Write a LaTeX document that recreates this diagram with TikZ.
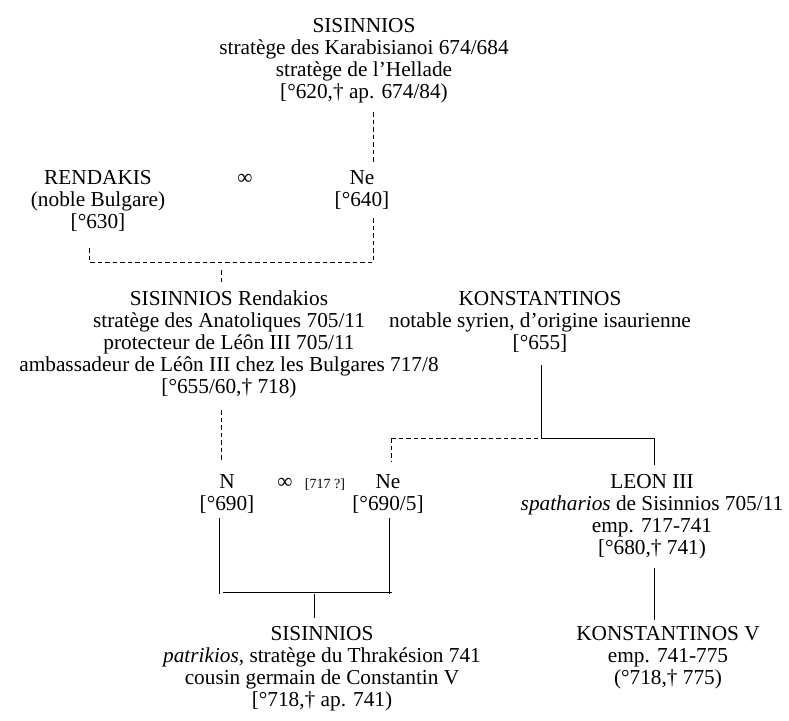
\documentclass[tikz,border=0pt]{standalone}
\usepackage{fontspec}
\setmainfont{Liberation Serif}
\begin{document}
\begin{tikzpicture}[x=1pt,y=-1pt,
  person/.style={align=center,inner sep=0pt,anchor=base,font=\fontsize{21.3}{22}\selectfont},
  smalltxt/.style={inner sep=0pt,anchor=base,font=\fontsize{14}{16}\selectfont},
  dsh/.style={line width=0.8pt,dash pattern=on 4.5pt off 3pt},
  sol/.style={line width=0.8pt}]
\useasboundingbox (0,0) rectangle (789,720);
% anchor base = baseline of the last line
\node[person] (sis1) at (364,98) {SISINNIOS\\stratège des Karabisianoi 674/684\\stratège de l’Hellade\\{[}°620,† ap. 674/84)};
\node[person] (ren) at (98,228) {RENDAKIS\\(noble Bulgare)\\{[}°630]};
\node[person] (m1) at (245,184) {∞};
\node[person] (ne1) at (362,206) {Ne\\{[}°640]};
\node[person] (sis2) at (229,393) {SISINNIOS Rendakios\\stratège des Anatoliques 705/11\\protecteur de Léôn III 705/11\\ambassadeur de Léôn III chez les Bulgares 717/8\\{[}°655/60,† 718)};
\node[person] (kon1) at (540,349) {KONSTANTINOS\\notable syrien, d’origine isaurienne\\{[}°655]};
\node[person] (n) at (227,510) {N\\{[}°690]};
\node[person] (m2) at (285,488) {∞};
\node[smalltxt] (d2) at (325,488) {[717 ?]};
\node[person] (ne2) at (388,510) {Ne\\{[}°690/5]};
\node[person] (leon) at (652,554) {LEON III\\\textit{spatharios} de Sisinnios 705/11\\emp. 717-741\\{[}°680,† 741)};
\node[person] (sis3) at (322,706) {SISINNIOS\\\textit{patrikios}, stratège du Thrakésion 741\\cousin germain de Constantin V\\{[}°718,† ap. 741)};
\node[person] (kon5) at (668,684) {KONSTANTINOS V\\emp. 741-775\\(°718,† 775)};
% junction coordinates
\coordinate (c1) at (373,112); \coordinate (c2) at (373,162);
\coordinate (c3) at (373,218); \coordinate (c4) at (373,262);
\coordinate (c5) at (89,262);  \coordinate (c6) at (89,245);
\coordinate (c7) at (221,270); \coordinate (c8) at (221,285);
\coordinate (c9) at (221,410); \coordinate (c10) at (221,462);
\coordinate (k1) at (541,365); \coordinate (k2) at (541,438);
\coordinate (k3) at (391,438); \coordinate (k4) at (654,438);
\coordinate (k5) at (654,465); \coordinate (k6) at (391,462);
\coordinate (n1) at (219,518); \coordinate (n2) at (219,594);
\coordinate (e1) at (389,518); \coordinate (e2) at (389,594);
\coordinate (h1) at (223,592); \coordinate (h2) at (392,592);
\coordinate (d1) at (314,594); \coordinate (d3) at (314,618);
\coordinate (l1) at (654,568); \coordinate (l2) at (654,620);
\draw[dsh] (c1) -- (c2);
\draw[dsh] (c3) -- (c4) -- (c5) -- (c6);
\draw[dsh] (c7) -- (c8);
\draw[dsh] (c9) -- (c10);
\draw[sol] (k1) -- (k2);
\draw[dsh] (k3) -- (k2);
\draw[sol] (k2) -- (k4) -- (k5);
\draw[dsh] (k3) -- (k6);
\draw[sol] (n1) -- (n2);
\draw[sol] (e1) -- (e2);
\draw[sol] (h1) -- (h2);
\draw[sol] (d1) -- (d3);
\draw[sol] (l1) -- (l2);
\end{tikzpicture}
\end{document}
